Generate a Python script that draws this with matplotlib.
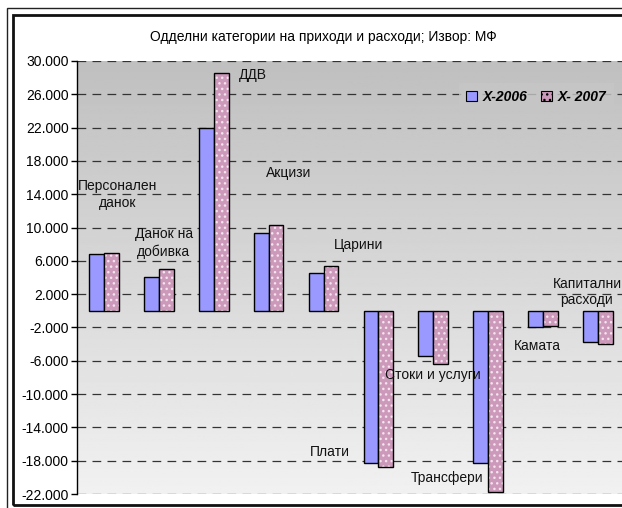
import numpy as np
import matplotlib.pyplot as plt
from matplotlib.patches import Patch, Rectangle
from matplotlib.ticker import FuncFormatter

plt.rcParams['font.family'] = ['Liberation Sans', 'DejaVu Sans']

# data
categories = ['Персонален\nданок', 'Данок на\nдобивка', 'ДДВ', 'Акцизи', 'Царини',
              'Плати', 'Стоки и услуги', 'Трансфери', 'Камата', 'Капитални\nрасходи']
x2006 = [6780, 4060, 22000, 9380, 4500, -18300, -5400, -18300, -1980, -3750]
x2007 = [6900, 5050, 28600, 10340, 5340, -18800, -6350, -21750, -1820, -4000]
series_names = ['X-2006', 'X- 2007']
yticks = list(range(-22000, 30001, 4000))

# label anchor points (x in category units, y in chart units)
label_pos = [(0.255, 13960), (1.09, 8140), (2.71, 28300), (3.37, 16500), (4.63, 7900),
             (4.12, -16950), (5.99, -7700), (6.25, -20100), (7.9, -4200), (8.8, 2260)]

W, H = 622, 508
fig = plt.figure(figsize=(W / 100, H / 100), dpi=100)

# double frame around the chart
fig.patches.append(Rectangle((7 / W, -0.01), 1.1, (H - 8) / H + 0.01, transform=fig.transFigure,
                             fill=False, lw=1.0, ec='#222222'))
fig.patches.append(Rectangle((13 / W, 1 - 505 / H), 1.1, (505 - 15) / H, transform=fig.transFigure,
                             fill=False, lw=2.0, ec='#111111'))

left, right, top, bottom = 77, 626, 61, 494
ax = fig.add_axes([left / W, 1 - bottom / H, (right - left) / W, (bottom - top) / H])

# gray gradient background of the plot area (dark at top, light at bottom)
grad = np.linspace(0.75, 0.945, 256).reshape(-1, 1)
ax.imshow(grad, cmap='gray', vmin=0, vmax=1, aspect='auto', extent=(0, 1, 0, 1),
          origin='upper', transform=ax.transAxes, zorder=0)

x = np.arange(len(categories))
bw = 0.27
ax.bar(x - bw / 2, x2006, bw, color='#9999ff', edgecolor='black', lw=1.0, zorder=3)
ax.bar(x + bw / 2, x2007, bw, color='#cc99bb', edgecolor='#f4e4ee', hatch='...', lw=0, zorder=3)
ax.bar(x + bw / 2, x2007, bw, fill=False, edgecolor='black', lw=1.0, zorder=4)

ax.set_xlim(-0.49, 9.51)
ax.set_ylim(-22000, 30000)
ax.set_yticks(yticks)
ax.yaxis.set_major_formatter(FuncFormatter(lambda v, p: f'{v:,.0f}'.replace(',', '.')))
ax.tick_params(axis='y', labelsize=10, length=4, width=1, direction='out', pad=2)
ax.set_xticks([])
ax.yaxis.grid(True, ls=(0, (7, 5)), color='#333333', lw=0.9, zorder=1)
ax.set_axisbelow(True)
for s in ['top', 'right', 'bottom']:
    ax.spines[s].set_visible(False)
ax.spines['left'].set_linewidth(1.0)

for name, (lx, ly) in zip(categories, label_pos):
    ax.text(lx, ly, name, ha='center', va='center', fontsize=10, linespacing=1.25,
            color='#111111', zorder=5, clip_on=False)

fig.text(0.52, 1 - 37 / H, 'Одделни категории на приходи и расходи; Извор: МФ',
         ha='center', va='center', fontsize=10)

handles = [Patch(facecolor='#9999ff', edgecolor='black', lw=0.8),
           Patch(facecolor='#cc99bb', edgecolor='black', hatch='...', lw=0.8)]
leg = fig.legend(handles, series_names, loc='center left',
                 bbox_to_anchor=(452 / W, 1 - 97 / H), ncol=2, frameon=True,
                 prop={'weight': 'bold', 'style': 'italic', 'size': 10},
                 handlelength=0.8, handleheight=0.8, handletextpad=0.4, columnspacing=1.0,
                 borderpad=0.5, fancybox=False)
leg.get_frame().set_facecolor('#c6c6c6')
leg.get_frame().set_edgecolor('none')

fig.savefig('out.png', dpi=100)
